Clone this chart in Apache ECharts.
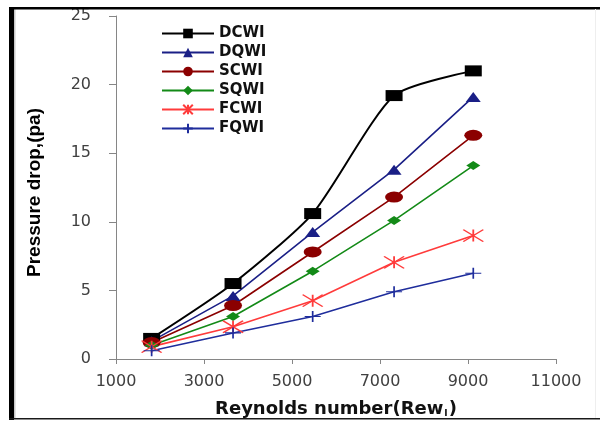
<!DOCTYPE html>
<html>
<head>
<meta charset="utf-8">
<script src="https://cdn.jsdelivr.net/npm/echarts@6/dist/echarts.min.js"></script>
<style>
  html, body { margin: 0; padding: 0; background: #ffffff; }
  #chart { width: 600px; height: 421px; }
</style>
</head>
<body>
<div id="chart"></div>
<script>
// Reynolds numbers of the measured runs and the pressure drop (Pa) for each configuration
const reynolds = [1810, 3660, 5470, 7320, 9120];
const dcwi = [1.5, 5.5, 10.6, 19.2, 21.0];
const dqwi = [1.3, 4.6, 9.25, 13.8, 19.1];
const scwi = [1.2, 3.9, 7.8, 11.8, 16.3];
const sqwi = [1.0, 3.1, 6.4, 10.1, 14.1];
const fcwi = [0.9, 2.35, 4.25, 7.05, 9.0];
const fqwi = [0.6, 1.9, 3.1, 4.9, 6.25];

const seriesNames = ['DCWI', 'DQWI', 'SCWI', 'SQWI', 'FCWI', 'FQWI'];
const seriesValues = [dcwi, dqwi, scwi, sqwi, fcwi, fqwi];

const xTicks = [1000, 3000, 5000, 7000, 9000, 11000];
const yTicks = [0, 5, 10, 15, 20, 25];

// Marker and line look of each series
const looks = [
  { symbol: 'rect', size: [17, 11], color: '#000000', width: 2, smooth: 0.22, stroke: 0 },
  { symbol: 'triangle', size: [15, 10], color: '#1a1f86', width: 1.6, smooth: false, stroke: 0 },
  { symbol: 'circle', size: [18, 11], color: '#8b0000', width: 1.6, smooth: false, stroke: 0 },
  { symbol: 'diamond', size: [14, 9], color: '#138a17', width: 1.6, smooth: false, stroke: 0 },
  { symbol: 'path://M0,0L10,10M10,0L0,10M5,0L5,10', size: [20, 12], color: '#ff3b3b', width: 1.6, smooth: false, stroke: 1.4 },
  { symbol: 'path://M0,5L10,5M5,0L5,10', size: [16, 11], color: '#1f2d9c', width: 1.5, smooth: false, stroke: 1.4 }
];

const series = seriesNames.map((name, i) => ({
  name: name,
  type: 'line',
  data: reynolds.map((re, k) => [re, seriesValues[i][k]]),
  symbol: looks[i].symbol,
  symbolSize: looks[i].size,
  smooth: looks[i].smooth,
  color: looks[i].color,
  lineStyle: { color: looks[i].color, width: looks[i].width },
  itemStyle: {
    color: looks[i].color,
    borderColor: looks[i].color,
    borderWidth: looks[i].stroke
  },
  emphasis: { disabled: true }
}));

const tickFont = "'DejaVu Sans', Verdana, sans-serif";
const axisGray = '#868686';

const chart = echarts.init(document.getElementById('chart'));
chart.setOption({
  animation: false,
  backgroundColor: '#ffffff',
  grid: { left: 116, right: 44, top: 16, bottom: 62, outerBoundsMode: 'none', containLabel: false },
  legend: {
    orient: 'vertical',
    left: 156,
    top: 21,
    itemWidth: 52,
    itemHeight: 12,
    itemGap: 4,
    data: seriesNames,
    textStyle: {
      fontFamily: tickFont,
      fontWeight: 'bold',
      fontSize: 15,
      lineHeight: 15,
      color: '#111111'
    }
  },
  xAxis: {
    type: 'value',
    min: 1000,
    max: 11000,
    interval: 1000,
    name: '{a|Reynolds number(Rew}{s|I}{a|)}',
    nameLocation: 'middle',
    nameGap: 41,
    nameTextStyle: {
      rich: {
        a: { fontFamily: tickFont, fontWeight: 'bold', fontSize: 18, color: '#111111' },
        s: { fontFamily: tickFont, fontWeight: 'bold', fontSize: 9, color: '#111111', verticalAlign: 'bottom', padding: [6, 1, 0, 1] }
      }
    },
    axisLine: { show: true, onZero: true, lineStyle: { color: axisGray, width: 1 } },
    axisTick: { show: true, customValues: xTicks, length: 5, lineStyle: { color: axisGray } },
    axisLabel: {
      customValues: xTicks,
      formatter: (v) => String(v),
      margin: 15,
      fontFamily: tickFont,
      fontSize: 16,
      color: '#404040'
    },
    splitLine: { show: false }
  },
  yAxis: {
    type: 'value',
    min: 0,
    max: 25,
    interval: 5,
    name: 'Pressure drop,(pa)',
    nameLocation: 'middle',
    nameGap: 72,
    nameTextStyle: {
      fontFamily: "'Liberation Sans', Arial, sans-serif",
      fontWeight: 'bold',
      fontSize: 19,
      color: '#000000',
      padding: [0, 10, 0, 0]
    },
    axisLine: { show: true, lineStyle: { color: axisGray, width: 1 } },
    axisTick: { show: true, customValues: yTicks, length: 7, lineStyle: { color: axisGray } },
    axisLabel: {
      customValues: yTicks,
      formatter: (v) => String(v),
      margin: 25,
      fontFamily: tickFont,
      fontSize: 16,
      color: '#404040'
    },
    splitLine: { show: false }
  },
  // Frame lines around the figure
  graphic: [
    { type: 'rect', silent: true, z: 100, shape: { x: 9, y: 7, width: 5, height: 413 }, style: { fill: '#000000' } },
    { type: 'rect', silent: true, z: 100, shape: { x: 14, y: 9, width: 1.5, height: 409 }, style: { fill: '#c8c8c8' } },
    { type: 'rect', silent: true, z: 100, shape: { x: 9, y: 7, width: 591, height: 2.5 }, style: { fill: '#000000' } },
    { type: 'rect', silent: true, z: 100, shape: { x: 9, y: 418, width: 591, height: 1.6 }, style: { fill: '#1a1a1a' } },
    { type: 'rect', silent: true, z: 100, shape: { x: 595, y: 9, width: 1, height: 409 }, style: { fill: '#eeeeee' } }
  ],
  series: series
});
</script>
</body>
</html>
